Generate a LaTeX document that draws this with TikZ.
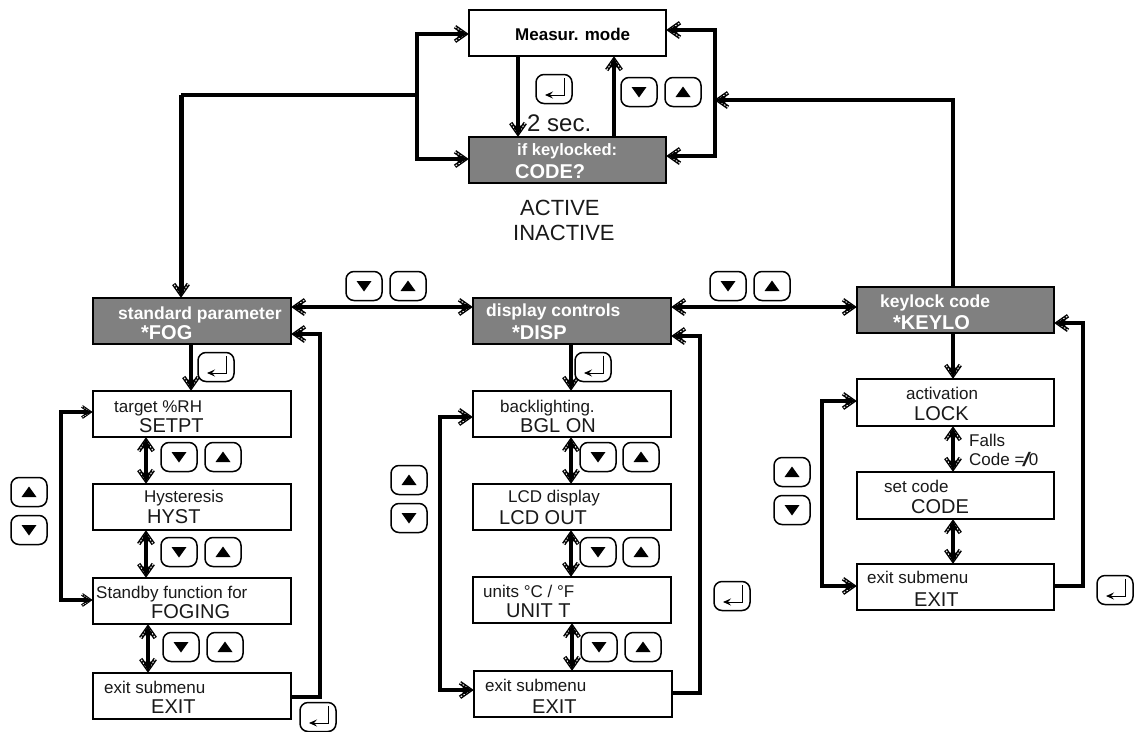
\documentclass[tikz,border=0pt]{standalone}
\usepackage{fontspec}
\setmainfont{Liberation Sans}
\usetikzlibrary{arrows.meta}
\newcommand{\fsz}[1]{\fontsize{#1}{#1}\selectfont}
\pgfdeclarearrow{
  name=HatchTip,
  setup code={
    \pgfarrowssettipend{0pt}
    \pgfarrowssetlineend{-.3\pgfarrowlength}
    \pgfarrowssetvisualbackend{-\pgfarrowlength}
    \pgfarrowssetbackend{-\pgfarrowlength}
    \pgfarrowssavethe\pgfarrowlength
  },
  drawing code={
    \pgfsetbuttcap
    \pgfsetmiterjoin
    \pgfpathmoveto{\pgfpoint{-\pgfarrowlength}{.56\pgfarrowlength}}
    \pgfpathlineto{\pgfpoint{-.2\pgfarrowlength}{0pt}}
    \pgfpathlineto{\pgfpoint{-\pgfarrowlength}{-.56\pgfarrowlength}}
    \pgfsetlinewidth{.3\pgfarrowlength}
    \pgfsetstrokecolor{black}
    \pgfusepathqstroke
    \pgfpathmoveto{\pgfpoint{-\pgfarrowlength}{.56\pgfarrowlength}}
    \pgfpathlineto{\pgfpoint{-.2\pgfarrowlength}{0pt}}
    \pgfpathlineto{\pgfpoint{-\pgfarrowlength}{-.56\pgfarrowlength}}
    \pgfsetlinewidth{.08\pgfarrowlength}
    \pgfsetstrokecolor{white}
    \pgfsetdash{{.13\pgfarrowlength}{.12\pgfarrowlength}}{0pt}
    \pgfusepathqstroke
    \pgfsetfillcolor{black}
    \pgfpathmoveto{\pgfqpoint{0pt}{0pt}}
    \pgfpathlineto{\pgfpoint{-.8\pgfarrowlength}{.36\pgfarrowlength}}
    \pgfpathlineto{\pgfpoint{-.8\pgfarrowlength}{-.36\pgfarrowlength}}
    \pgfpathclose
    \pgfusepathqfill
  },
  parameters={\the\pgfarrowlength},
  defaults={length=13pt}
}
\tikzset{
  x=1pt,y=-1pt,
  box/.style={draw=black,line width=2pt,fill=white,inner sep=0pt,anchor=north west},
  dark/.style={box,fill=black!50},
  sm/.style={anchor=base west,inner sep=0pt,font=\fsz{17},text=black!90},
  lg/.style={anchor=base west,inner sep=0pt,font=\fsz{20},text=black!90},
  big/.style={anchor=base west,inner sep=0pt,font=\fsz{22},text=black!90},
  wsm/.style={anchor=base west,inner sep=0pt,font=\fsz{17.5}\bfseries,text=white},
  wlg/.style={anchor=base west,inner sep=0pt,font=\fsz{20}\bfseries,text=white},
  keybox/.style={draw=black,line width=1.5pt,rounded corners=8pt,minimum width=36pt,minimum height=29pt,inner sep=0pt,fill=white},
  keydown/.style={keybox,path picture={\fill[black,sharp corners] ([shift={(-7.5,-5)}]path picture bounding box.center) -- ([shift={(7.5,-5)}]path picture bounding box.center) -- ([shift={(0,5.5)}]path picture bounding box.center) -- cycle;}},
  keyup/.style={keybox,path picture={\fill[black,sharp corners] ([shift={(-7.5,5)}]path picture bounding box.center) -- ([shift={(7.5,5)}]path picture bounding box.center) -- ([shift={(0,-5.5)}]path picture bounding box.center) -- cycle;}},
  keyenter/.style={keybox,path picture={\draw[black,sharp corners,line width=1pt,-{Stealth[length=8pt,width=7pt,inset=3pt]}] ([shift={(10,-11)}]path picture bounding box.center) -- ([shift={(10,6)}]path picture bounding box.center) -- ([shift={(-9,6)}]path picture bounding box.center);}},
  conn/.style={line width=4.5pt,draw=black,line join=miter},
  hconn/.style={line width=3.2pt,draw=black,line join=miter},
  arr/.style={-{HatchTip}},
  darr/.style={{HatchTip}-{HatchTip}},
  smallarr/.style={-{HatchTip[length=10pt]}},
}
\begin{document}
\begin{tikzpicture}
\useasboundingbox[fill=white] (0,0) rectangle (1134,731);
% top boxes
\node[box,minimum width=197pt,minimum height=46pt] (meas) at (468,9) {};
\node[dark,minimum width=197pt,minimum height=46pt] (codeq) at (468,136) {};
% column 1
\node[dark,minimum width=198pt,minimum height=46pt] (fog) at (92,297) {};
\node[box,minimum width=198pt,minimum height=46pt] (setpt) at (92,390) {};
\node[box,minimum width=198pt,minimum height=46pt] (hyst) at (92,483) {};
\node[box,minimum width=198pt,minimum height=46pt] (foging) at (92,577) {};
\node[box,minimum width=198pt,minimum height=46pt] (exita) at (92,672) {};
% column 2
\node[dark,minimum width=198pt,minimum height=46pt] (disp) at (472,297) {};
\node[box,minimum width=198pt,minimum height=46pt] (bgl) at (472,390) {};
\node[box,minimum width=198pt,minimum height=46pt] (lcd) at (472,483) {};
\node[box,minimum width=198pt,minimum height=46pt] (unit) at (472,576) {};
\node[box,minimum width=198pt,minimum height=46pt] (exitb) at (473,670) {};
% column 3
\node[dark,minimum width=197pt,minimum height=46pt] (keylo) at (856,286) {};
\node[box,minimum width=197pt,minimum height=47pt] (lock) at (856,378) {};
\node[box,minimum width=197pt,minimum height=47pt] (code) at (856,471) {};
\node[box,minimum width=197pt,minimum height=46pt] (exitc) at (856,563) {};
% routing points
\coordinate (tl) at (417,95);
\coordinate (tlu) at (417,34);
\coordinate (tld) at (417,159);
\coordinate (fx) at (181,95);
\coordinate (tr) at (715,100);
\coordinate (tru) at (715,30);
\coordinate (trd) at (715,156);
\coordinate (kx) at (953,100);
\coordinate (la) at (61,412);
\coordinate (lb) at (61,600);
\coordinate (ma) at (440,417);
\coordinate (mb) at (440,690);
\coordinate (ra) at (822,401);
\coordinate (rb) at (822,586);
\coordinate (fa) at (320,697);
\coordinate (fb) at (320,334);
\coordinate (ga) at (700,693);
\coordinate (gb) at (700,336);
\coordinate (ha) at (1083,586);
\coordinate (hb) at (1083,323);
\coordinate (rowa) at (0,307);
% top connectors
\draw[conn,arr] (meas.south west -| 518,0) -- (codeq.north west -| 518,0);
\draw[conn,arr] (codeq.north west -| 614,0) -- (meas.south west -| 614,0);
\draw[conn] (fx) -- (tl);
\draw[line width=5pt,arr] (fx) -- (fx |- fog.north);
\draw[hconn,arr] (tl) -- (tlu) -- (tlu -| meas.west);
\draw[hconn,arr] (tl) -- (tld) -- (tld -| codeq.west);
\draw[hconn,arr] (tr) -- (tru) -- (tru -| meas.east);
\draw[hconn,arr] (tr) -- (trd) -- (trd -| codeq.east);
\draw[conn,arr] (kx |- keylo.north) -- (kx) -- (tr);
% row connectors
\draw[hconn,darr] (rowa -| fog.east) -- (rowa -| disp.west);
\draw[hconn,darr] (rowa -| disp.east) -- (rowa -| keylo.west);
% column 1
\draw[conn,arr] (fog.south -| 191,0) -- (setpt.north -| 191,0);
\draw[hconn,darr] (setpt.south -| 146,0) -- (hyst.north -| 146,0);
\draw[hconn,darr] (hyst.south -| 146,0) -- (foging.north -| 146,0);
\draw[hconn,darr] (foging.south -| 148,0) -- (exita.north -| 148,0);
\draw[hconn,smallarr] (lb) -- (la) -- (la -| setpt.west);
\draw[hconn,smallarr] (la) -- (lb) -- (lb -| foging.west);
\draw[conn,arr] (fa -| exita.east) -- (fa) -- (fb) -- (fb -| fog.east);
% column 2
\draw[conn,arr] (disp.south -| 571,0) -- (bgl.north -| 571,0);
\draw[conn,darr] (bgl.south -| 571,0) -- (lcd.north -| 571,0);
\draw[conn,darr] (lcd.south -| 571,0) -- (unit.north -| 571,0);
\draw[conn,darr] (unit.south -| 572,0) -- (exitb.north -| 572,0);
\draw[conn,arr] (mb) -- (ma) -- (ma -| bgl.west);
\draw[conn,arr] (ma) -- (mb) -- (mb -| exitb.west);
\draw[conn,arr] (ga -| exitb.east) -- (ga) -- (gb) -- (gb -| disp.east);
% column 3
\draw[conn,arr] (keylo.south -| 953,0) -- (lock.north -| 953,0);
\draw[conn,darr] (lock.south -| 953,0) -- (code.north -| 953,0);
\draw[conn,darr] (code.south -| 953,0) -- (exitc.north -| 953,0);
\draw[hconn,arr] (rb) -- (ra) -- (ra -| lock.west);
\draw[hconn,arr] (ra) -- (rb) -- (rb -| exitc.west);
\draw[hconn,arr] (ha -| exitc.east) -- (ha) -- (hb) -- (hb -| keylo.east);
% keys
\node[keyenter] (k1) at (554,89) {};
\node[keydown] (k2) at (639,92) {};
\node[keyup] (k3) at (683,92) {};
\node[keydown] (k4) at (364,286) {};
\node[keyup] (k5) at (408,286) {};
\node[keydown] (k6) at (728,286) {};
\node[keyup] (k7) at (772,286) {};
\node[keyenter] (k8) at (216,367) {};
\node[keydown] (k9) at (179,457) {};
\node[keyup] (k10) at (223,457) {};
\node[keydown] (k11) at (179,552) {};
\node[keyup] (k12) at (223,552) {};
\node[keydown] (k13) at (181,647) {};
\node[keyup] (k14) at (225,647) {};
\node[keyenter] (k15) at (318,717) {};
\node[keyup] (k16) at (29,492) {};
\node[keydown] (k17) at (29,530) {};
\node[keyenter] (k18) at (593,367) {};
\node[keydown] (k19) at (598,457) {};
\node[keyup] (k20) at (641,457) {};
\node[keydown] (k21) at (598,552) {};
\node[keyup] (k22) at (641,552) {};
\node[keydown] (k23) at (599,647) {};
\node[keyup] (k24) at (643,647) {};
\node[keyenter] (k25) at (732,596) {};
\node[keyup] (k26) at (409,480) {};
\node[keydown] (k27) at (409,518) {};
\node[keyup] (k28) at (792,472) {};
\node[keydown] (k29) at (792,510) {};
\node[keyenter] (k30) at (1115,590) {};
% texts
\node[anchor=base west,inner sep=0pt,font=\fsz{17}\bfseries] (t1) at (515,40) {Measur. mode};
\node[wsm,font=\fsz{16.5}\bfseries] (t2) at (517,155) {if keylocked:};
\node[wlg] (t3) at (515,178) {CODE?};
\node[anchor=base west,inner sep=0pt,font=\fsz{24},text=black!90] (t4) at (527,131) {2 sec.};
\node[big] (t5) at (520,215) {ACTIVE};
\node[big] (t6) at (513,240) {INACTIVE};
\node[wsm] (t7) at (118,319) {standard parameter};
\node[wlg] (t8) at (141,339) {*FOG};
\node[sm] (t9) at (114,412) {target \%RH};
\node[lg] (t10) at (139,432) {SETPT};
\node[sm] (t11) at (144,502) {Hysteresis};
\node[lg] (t12) at (147,523) {HYST};
\node[sm] (t13) at (96,598) {Standby function for};
\node[lg] (t14) at (151,618) {FOGING};
\node[sm] (t15) at (104,693) {exit submenu};
\node[lg] (t16) at (151,713) {EXIT};
\node[wsm] (t17) at (486,316) {display controls};
\node[wlg] (t18) at (512,339) {*DISP};
\node[sm] (t19) at (500,412) {backlighting.};
\node[lg] (t20) at (520,432) {BGL ON};
\node[sm] (t21) at (508,502) {LCD display};
\node[lg] (t22) at (499,524) {LCD OUT};
\node[sm] (t23) at (483,597) {units °C / °F};
\node[lg] (t24) at (506,617) {UNIT T};
\node[sm] (t25) at (485,691) {exit submenu};
\node[lg] (t26) at (532,713) {EXIT};
\node[wsm] (t27) at (880,307) {keylock code};
\node[wlg] (t28) at (893,329) {*KEYLO};
\node[sm] (t29) at (906,399) {activation};
\node[lg] (t30) at (914,420) {LOCK};
\node[sm] (t31) at (969,446) {Falls};
\node[sm] (t32) at (969,465) {Code =\kern-2.5pt\raisebox{-1pt}{\scalebox{1.9}[1.15]{/}}\kern-2pt 0};
\node[sm] (t33) at (884,492) {set code};
\node[lg] (t34) at (911,513) {CODE};
\node[sm] (t35) at (867,583) {exit submenu};
\node[lg] (t36) at (914,606) {EXIT};
\end{tikzpicture}
\end{document}
